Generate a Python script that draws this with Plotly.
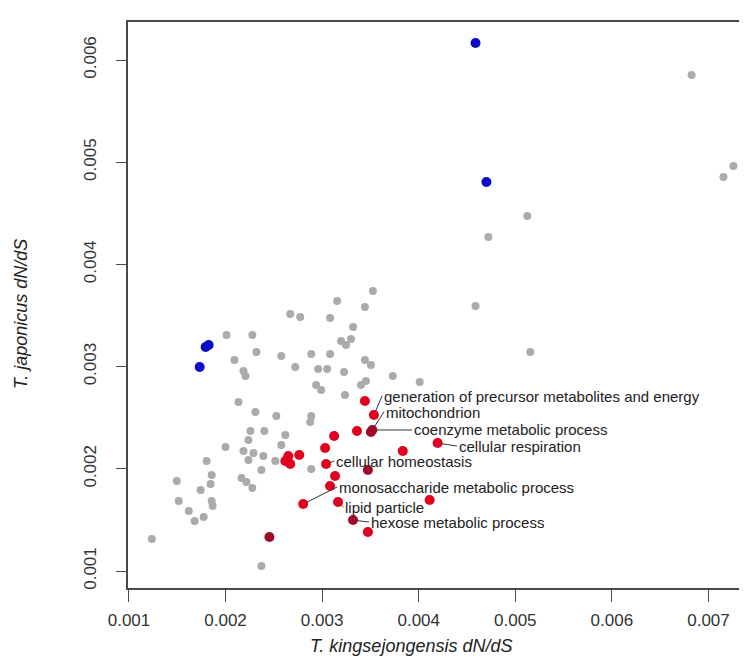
import plotly.graph_objects as go

# ---- data ----
gray_x = [0.006825, 0.007258, 0.007155, 0.005124, 0.004722, 0.004588, 0.005155,
          0.003526, 0.003155, 0.003443, 0.002670, 0.002773, 0.003082, 0.003320,
          0.002010, 0.002278, 0.003196, 0.003247, 0.003299, 0.002320, 0.002577,
          0.002887, 0.003082, 0.002093, 0.002186, 0.002206, 0.002722, 0.002959,
          0.003052, 0.003227, 0.003443, 0.003505, 0.003732, 0.004010, 0.002938,
          0.002990, 0.003454, 0.003402, 0.003237, 0.002134, 0.002309, 0.002526,
          0.002887, 0.002876, 0.002402, 0.002258, 0.002237, 0.002619, 0.002577,
          0.002000, 0.002186, 0.002289, 0.002237, 0.002392, 0.002515, 0.001804,
          0.001856, 0.001845, 0.002165, 0.002216, 0.002278, 0.002371, 0.002887,
          0.001495, 0.001742, 0.001856, 0.001866, 0.001515, 0.001619, 0.001680,
          0.001773, 0.001237, 0.002371]
gray_y = [0.005853, 0.004963, 0.004855, 0.004474, 0.004268, 0.003593, 0.003143,
          0.003740, 0.003642, 0.003583, 0.003515, 0.003485, 0.003476, 0.003387,
          0.003309, 0.003309, 0.003250, 0.003211, 0.003270, 0.003143, 0.003104,
          0.003123, 0.003123, 0.003065, 0.002957, 0.002908, 0.002996, 0.002977,
          0.002977, 0.002947, 0.003065, 0.003016, 0.002908, 0.002849, 0.002820,
          0.002771, 0.002859, 0.002820, 0.002722, 0.002654, 0.002556, 0.002517,
          0.002517, 0.002458, 0.002370, 0.002370, 0.002282, 0.002331, 0.002233,
          0.002213, 0.002174, 0.002155, 0.002086, 0.002125, 0.002076, 0.002076,
          0.001939, 0.001851, 0.001910, 0.001871, 0.001812, 0.001988, 0.001998,
          0.001881, 0.001793, 0.001685, 0.001636, 0.001685, 0.001587, 0.001489,
          0.001528, 0.001313, 0.001049]

blue_x = [0.004588, 0.004701, 0.001825, 0.001794, 0.001732]
blue_y = [0.006166, 0.004806, 0.003211, 0.003192, 0.002996]

red_x = [0.003443, 0.003536, 0.003361, 0.003505, 0.003520, 0.003124, 0.004196,
         0.003835, 0.003031, 0.002650, 0.002763, 0.002670, 0.002619, 0.003041,
         0.003474, 0.003134, 0.003082, 0.004113, 0.002804, 0.003165, 0.003320,
         0.003474, 0.002454]
red_y = [0.002663, 0.002526, 0.002370, 0.002360, 0.002380, 0.002321, 0.002252,
         0.002174, 0.002204, 0.002125, 0.002135, 0.002047, 0.002076, 0.002047,
         0.001988, 0.001930, 0.001832, 0.001695, 0.001656, 0.001675, 0.001499,
         0.001382, 0.001333]
red_dark = [False, False, False, True, True, False, False, False, False, False,
            False, False, False, False, True, False, False, False, False, False,
            True, False, True]

# labelled GO terms: text, point, text position
label_text = ["generation of precursor metabolites and energy", "mitochondrion",
              "coenzyme metabolic process", "cellular respiration",
              "cellular homeostasis", "monosaccharide metabolic process",
              "lipid particle", "hexose metabolic process"]
label_px = [0.003536, 0.003505, 0.003520, 0.004196, 0.003041, 0.002804, 0.003165, 0.003320]
label_py = [0.002526, 0.002360, 0.002380, 0.002252, 0.002047, 0.001656, 0.001675, 0.001499]
label_tx = [0.003620, 0.003640, 0.003930, 0.004395, 0.003125, 0.003155, 0.003220, 0.003485]
label_ty = [0.002712, 0.002556, 0.002380, 0.002223, 0.002076, 0.001822, 0.001626, 0.001479]

x_ticks = [0.001, 0.002, 0.003, 0.004, 0.005, 0.006, 0.007]
y_ticks = [0.001, 0.002, 0.003, 0.004, 0.005, 0.006]

FONT = "Liberation Sans, Arial, sans-serif"

fig = go.Figure()
fig.add_trace(go.Scatter(x=gray_x, y=gray_y, mode="markers",
                         marker=dict(size=8, color="#ababab"), hoverinfo="skip"))
fig.add_trace(go.Scatter(x=blue_x, y=blue_y, mode="markers",
                         marker=dict(size=10, color="#0a0ac8"), hoverinfo="skip"))
fig.add_trace(go.Scatter(x=red_x, y=red_y, mode="markers",
                         marker=dict(size=10,
                                     color=["#a00a28" if d else "#e1001e" for d in red_dark]),
                         hoverinfo="skip"))

for t, px, py, tx, ty in zip(label_text, label_px, label_py, label_tx, label_ty):
    fig.add_annotation(x=px, y=py, ax=tx, ay=ty, xref="x", yref="y", axref="x", ayref="y",
                       text=t, showarrow=True, arrowhead=0, arrowwidth=1, arrowcolor="#333333",
                       standoff=4, xanchor="left", yanchor="middle",
                       font=dict(family=FONT, size=15, color="#222222"))

fig.add_annotation(text="<i>T. kingsejongensis dN/dS</i>", xref="paper", yref="paper",
                   x=0.455, y=-0.103, showarrow=False, xanchor="center", yanchor="middle",
                   font=dict(family=FONT, size=18, color="#222222"))
fig.add_annotation(text="<i>T. japonicus dN/dS</i>", xref="paper", yref="paper",
                   x=-0.172, y=0.484, showarrow=False, xanchor="center", yanchor="middle",
                   textangle=-90, font=dict(family=FONT, size=18, color="#222222"))

axis_common = dict(showgrid=False, zeroline=False, showline=True, mirror=True,
                   linecolor="#4a4a4a", linewidth=1.5, ticks="outside", tickcolor="#4a4a4a",
                   tickwidth=1.2, tickfont=dict(family=FONT, size=17, color="#333333"))
fig.update_xaxes(range=[0.00099, 0.00743], tickvals=x_ticks,
                 ticktext=[f"{v:.3f}" for v in x_ticks], ticklen=12,
                 ticklabelstandoff=4, **axis_common)
fig.update_yaxes(range=[0.000834, 0.006372], tickvals=y_ticks,
                 ticktext=[f"{v:.3f}" for v in y_ticks], ticklen=10, tickangle=-90,
                 ticklabelstandoff=13, **axis_common)

fig.update_layout(width=747, height=665, showlegend=False,
                  margin=dict(l=120, r=3, t=14, b=85),
                  plot_bgcolor="white", paper_bgcolor="white")
fig.write_html("out.html")
